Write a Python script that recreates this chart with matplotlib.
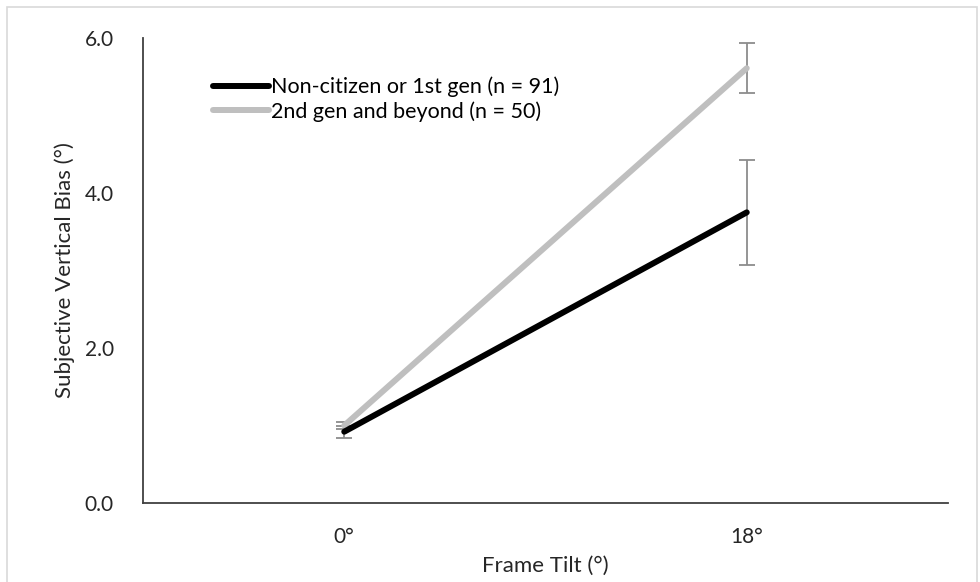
import numpy as np
import matplotlib.pyplot as plt
from matplotlib.patches import Rectangle

# data
tilts = ['0°', '18°']
first_gen = [0.92, 3.75]
first_gen_err = [0.08, 0.68]
second_gen = [1.00, 5.61]
second_gen_err = [0.05, 0.32]
labels = ['Non-citizen or 1st gen (n = 91)', '2nd gen and beyond (n = 50)']

plt.rcParams['font.family'] = ['Lato', 'DejaVu Sans']

fig = plt.figure(figsize=(9.8, 5.82), dpi=100)
ax = fig.add_axes([143 / 980, 1 - 503 / 582, (948 - 143) / 980, (503 - 38) / 582])

# light frame around the chart
fig.patches.append(Rectangle((7 / 980, -0.05), 970 / 980, 1.05 - 7 / 582,
                             transform=fig.transFigure, fill=False,
                             edgecolor='#d9d9d9', linewidth=1.2))

x = np.arange(len(tilts))
ax.errorbar(x, first_gen, yerr=first_gen_err, fmt='none', ecolor='#8c8c8c',
            elinewidth=1.3, capsize=6, capthick=1.3, zorder=1)
ax.errorbar(x, second_gen, yerr=second_gen_err, fmt='none', ecolor='#8c8c8c',
            elinewidth=1.3, capsize=6, capthick=1.3, zorder=1)
ax.plot(x, first_gen, color='black', lw=4.3, solid_capstyle='round', label=labels[0], zorder=3)
ax.plot(x, second_gen, color='#bfbfbf', lw=4.3, solid_capstyle='round', label=labels[1], zorder=2)

ax.set_xlim(-0.5, 1.5)
ax.set_ylim(0, 6)
ax.set_xticks(x)
ax.set_xticklabels(tilts)
ax.set_yticks([0, 2, 4, 6])
ax.set_yticklabels(['0.0', '2.0', '4.0', '6.0'])
ax.tick_params(length=0, labelsize=15, colors='#262626')
ax.tick_params(axis='x', pad=17)
ax.tick_params(axis='y', pad=21)

for s in ['top', 'right']:
    ax.spines[s].set_visible(False)
for s in ['left', 'bottom']:
    ax.spines[s].set_color('#404040')
    ax.spines[s].set_linewidth(1.3)

ax.set_xlabel('Frame Tilt (°)', fontsize=16, color='#262626', labelpad=7)
ax.set_ylabel('Subjective Vertical Bias (°)', fontsize=16, color='#262626', labelpad=7)

ax.legend(loc='upper left', bbox_to_anchor=(0.063, 0.958), frameon=False, fontsize=15.5,
          handlelength=2.6, handletextpad=0.08, labelspacing=0.18)

fig.savefig('out.png', dpi=100)
